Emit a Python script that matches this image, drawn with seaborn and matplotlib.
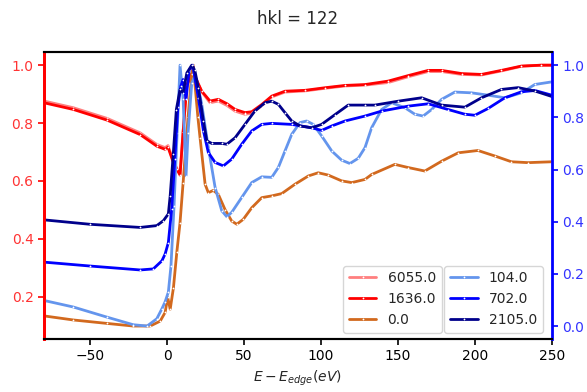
import numpy as np
import pandas as pd
import matplotlib
matplotlib.use("Agg")
import matplotlib.pyplot as plt
import seaborn as sns

# ---- data ----
# left axis series
e_1636 = [-80, -61, -39, -17.5, -6.7, -1.3, 0.6, 4, 6.3, 8.4, 10.4, 12.8, 16, 19, 22.5, 27.9, 33.3, 38.8,
          44.2, 50.6, 55, 61.5, 68, 76.6, 89.6, 102.6, 115.6, 128.6, 143.7, 156.7, 169.7, 178.4, 191.4,
          204.3, 217.3, 230.3, 243.3, 250]
v_1636 = [0.87, 0.847, 0.81, 0.76, 0.72, 0.709, 0.716, 0.664, 0.64, 0.62, 0.77, 0.93, 0.97, 0.95, 0.91,
          0.876, 0.882, 0.867, 0.847, 0.836, 0.839, 0.864, 0.893, 0.91, 0.913, 0.922, 0.93, 0.933, 0.945,
          0.964, 0.982, 0.982, 0.971, 0.968, 0.982, 0.997, 1.0, 1.0]

e_6055 = list(e_1636)
v_6055 = [0.876, 0.853, 0.816, 0.766, 0.726, 0.715, 0.722, 0.668, 0.644, 0.624, 0.77, 0.93, 0.97, 0.95,
          0.908, 0.87, 0.876, 0.861, 0.841, 0.83, 0.834, 0.86, 0.89, 0.907, 0.911, 0.92, 0.928, 0.931,
          0.94, 0.96, 0.978, 0.978, 0.968, 0.966, 0.98, 0.996, 1.0, 1.0]

e_0 = [-80, -61, -39, -22, -11, -4.5, -1.3, 0.4, 2, 4.1, 6.3, 8.4, 10.4, 13.6, 16, 17, 20, 21.4, 24.7,
       26.8, 30, 33.3, 37.7, 42, 45.3, 49.5, 55, 61.5, 68, 74.5, 83, 91.8, 98.2, 104.7, 113.4, 120, 128.6,
       132.9, 148, 156.7, 167.5, 178.4, 189.2, 202, 213, 223.8, 234.6, 250]
v_0 = [0.133, 0.119, 0.107, 0.098, 0.098, 0.115, 0.145, 0.197, 0.156, 0.23, 0.353, 0.456, 0.594, 0.82,
       0.968, 1.0, 0.82, 0.749, 0.588, 0.559, 0.567, 0.553, 0.50, 0.461, 0.45, 0.467, 0.507, 0.542, 0.548,
       0.556, 0.588, 0.617, 0.628, 0.62, 0.60, 0.594, 0.605, 0.622, 0.657, 0.646, 0.634, 0.668, 0.697,
       0.705, 0.686, 0.666, 0.663, 0.666]

# right axis series
e_104 = [-80, -61, -39, -22, -13, -6.7, -3.4, -1.3, 0.8, 2.5, 4.5, 6.5, 8.4, 10.4, 12.3, 13.6, 16, 18.2,
         20, 22.5, 26.8, 31.2, 35.5, 38.8, 42, 48.5, 55, 61.5, 68, 72.3, 76.6, 81, 86.4, 90.7, 95, 100.4,
         107, 113.4, 118.8, 124.2, 128.6, 132.9, 139.4, 145.9, 154.5, 161, 166.4, 171.9, 178.4, 187,
         197.8, 208.6, 219.5, 230.3, 239, 250]
v_104 = [0.098, 0.073, 0.034, 0.005, 0.0, 0.028, 0.066, 0.093, 0.13, 0.23, 0.46, 0.74, 1.0, 0.87, 0.576,
         0.74, 0.93, 0.96, 0.92, 0.85, 0.684, 0.531, 0.442, 0.419, 0.436, 0.493, 0.55, 0.572, 0.57, 0.608,
         0.671, 0.735, 0.78, 0.786, 0.773, 0.729, 0.671, 0.636, 0.623, 0.643, 0.684, 0.76, 0.83, 0.856,
         0.837, 0.812, 0.805, 0.83, 0.869, 0.897, 0.894, 0.885, 0.875, 0.894, 0.926, 0.936]

e_702 = [-80, -50, -17.5, -9, -3.4, -1.3, 0.8, 3, 5, 7, 8.9, 10.4, 12.3, 14.3, 16.6, 20.3, 23.6, 26.8,
         31.2, 36.6, 42, 48.5, 55, 61.5, 68, 81, 94, 100.4, 107, 115.6, 128.6, 139.4, 156.7, 169.7, 182.7,
         193.5, 200, 208.6, 219.5, 230.3, 239, 250]
v_702 = [0.245, 0.23, 0.215, 0.219, 0.25, 0.276, 0.32, 0.45, 0.64, 0.84, 0.92, 0.945, 0.87, 0.98, 1.0,
         0.875, 0.748, 0.665, 0.627, 0.614, 0.64, 0.697, 0.748, 0.773, 0.777, 0.773, 0.76, 0.75, 0.767,
         0.786, 0.805, 0.824, 0.843, 0.852, 0.83, 0.812, 0.808, 0.834, 0.875, 0.898, 0.903, 0.885]

e_2105 = [-80, -50, -17.5, -6.7, -2.4, 0.8, 2, 4, 6, 8.4, 10.4, 12.8, 16, 18, 20.3, 23.6, 25.8, 29, 35.5,
          38.8, 44.2, 50.6, 57, 63.6, 68, 72.3, 76.6, 81, 86.4, 94, 100.4, 109, 117.7, 128.6, 135, 150.2,
          165.4, 178.4, 193.5, 204.3, 217.3, 228.1, 239, 250]
v_2105 = [0.407, 0.39, 0.378, 0.385, 0.404, 0.43, 0.5, 0.66, 0.83, 0.907, 0.894, 0.97, 1.0, 0.98, 0.914,
          0.786, 0.71, 0.70, 0.70, 0.697, 0.722, 0.773, 0.824, 0.856, 0.862, 0.85, 0.818, 0.786, 0.767,
          0.76, 0.773, 0.81, 0.847, 0.847, 0.847, 0.862, 0.875, 0.847, 0.839, 0.875, 0.907, 0.914, 0.901,
          0.88]

labels_left = ["6055.0", "1636.0", "0.0"]
labels_right = ["104.0", "702.0", "2105.0"]
colors_left = ["#ff7f7f", "#ff0000", "#d2691e"]
colors_right = ["#6495ed", "#0000ff", "#00008b"]

x_ticks = [-50, 0, 50, 100, 150, 200, 250]

# ---- plotting ----
sns.set_style("white")
plt.rcParams["font.family"] = ["DejaVu Sans"]

fig, ax = plt.subplots(figsize=(5.87, 3.92), dpi=100)
fig.subplots_adjust(left=0.075, right=0.94, top=0.867, bottom=0.135)
ax2 = ax.twinx()

left_data = [(e_6055, v_6055), (e_1636, v_1636), (e_0, v_0)]
right_data = [(e_104, v_104), (e_702, v_702), (e_2105, v_2105)]

for (e, v), lab, col in zip(left_data, labels_left, colors_left):
    df = pd.DataFrame({"E": e, "v": v})
    sns.lineplot(data=df, x="E", y="v", ax=ax, color=col, label=lab, linewidth=2,
                 marker="+", markersize=2, markeredgewidth=0.5, estimator=None, legend=False)

for (e, v), lab, col in zip(right_data, labels_right, colors_right):
    df = pd.DataFrame({"E": e, "v": v})
    sns.lineplot(data=df, x="E", y="v", ax=ax2, color=col, label=lab, linewidth=2,
                 marker="+", markersize=2, markeredgewidth=0.5, estimator=None, legend=False)

ax.set_xlim(-80, 250)
ax.set_xticks(x_ticks)
ax.set_yticks([0.2, 0.4, 0.6, 0.8, 1.0])
ax2.set_yticks([0.0, 0.2, 0.4, 0.6, 0.8, 1.0])
ax.set_ylabel("")
ax2.set_ylabel("")
ax.set_xlabel(r"$E-E_{edge}(eV)$", fontsize=10)
ax.set_title("hkl = 122", fontsize=12, pad=20)

for a in (ax, ax2):
    for s in a.spines.values():
        s.set_linewidth(1.5)
        s.set_color("black")
ax2.spines["left"].set_color("red")
ax2.spines["left"].set_linewidth(2)
ax2.spines["right"].set_color("blue")
ax2.spines["right"].set_linewidth(2)
ax.spines["left"].set_color("red")
ax.spines["left"].set_linewidth(2)
ax.spines["right"].set_visible(False)

ax.tick_params(axis="x", direction="out", length=4, width=1.2, colors="black", labelsize=10, bottom=True)
ax.tick_params(axis="y", direction="out", length=4, width=1.2, colors="red", labelcolor="#ff3333",
               labelsize=10, left=True)
ax2.tick_params(axis="y", direction="out", length=4, width=1.2, colors="blue", labelcolor="#3333ff",
                labelsize=10, right=True)

h1, l1 = ax.get_legend_handles_labels()
h2, l2 = ax2.get_legend_handles_labels()
leg_left = ax2.legend(h1, l1, loc="lower right", bbox_to_anchor=(0.783, 0.022), fontsize=10,
                      borderaxespad=0, handlelength=2, frameon=True)
ax2.add_artist(leg_left)
ax2.legend(h2, l2, loc="lower right", bbox_to_anchor=(0.982, 0.022), fontsize=10,
           borderaxespad=0, handlelength=2, frameon=True)

fig.savefig("out.png", dpi=100)
